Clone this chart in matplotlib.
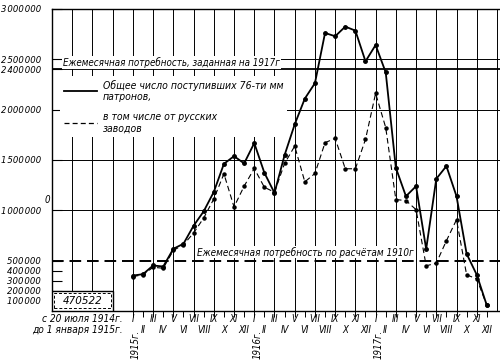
import numpy as np
import matplotlib
matplotlib.use("Agg")
import matplotlib.pyplot as plt
from matplotlib import font_manager
from matplotlib.lines import Line2D
from matplotlib.patches import Rectangle

# the drawing uses a tall narrow lettering: take a condensed DejaVu if present
cond = [f for f in font_manager.fontManager.ttflist
        if f.name == 'DejaVu Sans' and 'condensed' in str(f.stretch)]
plt.rcParams['font.family'] = ['DejaVu Sans']
plt.rcParams['font.style'] = 'italic'
k = 1.0
if cond:
    plt.rcParams['font.stretch'] = 'condensed'
    k = 1.1

# monthly deliveries of 76 mm rounds, Jan 1915 .. Dec 1917 (thousands)
months = np.arange(36)
total = [352, 366, 452, 442, 618, 668, 847, 990, 1183, 1462, 1538, 1466,
         1668, 1373, 1173, 1549, 1854, 2110, 2263, 2762, 2729, 2825, 2785, 2480,
         2642, 2370, 1423, 1140, 1240, 615, 1313, 1439, 1140, 568, 360, 55]
russian = [342, 360, 434, 425, 602, 658, 775, 924, 1113, 1363, 1034, 1240,
           1416, 1229, 1180, 1466, 1638, 1283, 1366, 1672, 1715, 1413, 1413, 1705,
           2162, 1822, 1107, 1097, 1007, 449, 475, 698, 907, 359, 320, 55]
total = np.array(total) * 1000
russian = np.array(russian) * 1000

need_1917 = 2400000
need_1910 = 500000
before_1915 = 470522

roman = ['I', 'II', 'III', 'IV', 'V', 'VI', 'VII', 'VIII', 'IX', 'X', 'XI', 'XII']
years = ['1915г.', '1916г.', '1917г.']
yticks = [100000, 200000, 300000, 400000, 500000, 1000000, 1500000,
          2000000, 2400000, 2500000, 3000000]


def fmt(v):
    return f"{v:,}".replace(",", "\u200a")


fig = plt.figure(figsize=(5, 3.64), dpi=100)
ax = fig.add_axes([0.104, 0.1456, 0.896, 0.8297])
ax.set_xlim(-8, 36.3)
ax.set_ylim(0, 3000000)

# grid
for x in range(-6, 37, 2):
    ax.axvline(x, color='black', lw=0.7, zorder=1)
for y in [1000000, 1500000, 2000000, 2500000]:
    ax.axhline(y, color='black', lw=0.7, zorder=1)

ax.axhline(need_1917, color='black', lw=1.3, zorder=2)
ax.axhline(need_1910, color='black', lw=1.4, ls=(0, (6, 3)), zorder=2)

# box with total before 1915
ax.add_patch(Rectangle((-8, 0), 6, 200000, fc='white', ec='black', lw=1.0, zorder=3))
ax.add_patch(Rectangle((-7.8, 30000), 5.6, 145000, fc='none', ec='black',
                       lw=0.7, ls=(0, (3, 2)), zorder=3))
ax.text(-5, 100000, str(before_1915), ha='center', va='center', fontsize=7.5 * k,
        zorder=4)

ax.plot(months, total, color='black', lw=1.3, marker='o', ms=2.5, zorder=5)
ax.plot(months, russian, color='black', lw=0.8, ls=(0, (5, 3)), marker='o',
        ms=2.2, zorder=5)

ax.text(-6.9, 2470000, 'Ежемесячная потребность, заданная на 1917г',
        fontsize=6.35 * k, ha='left', va='center', zorder=4,
        bbox=dict(fc='white', ec='none', pad=0.5))
ax.text(6.3, 585000, 'Ежемесячная потребность по расчётам 1910г',
        fontsize=6.5 * k, ha='left', va='center', zorder=4,
        bbox=dict(fc='white', ec='none', pad=0.5))
ax.text(-8.5, 1100000, '0', fontsize=7, ha='center', va='center')

handles = [Line2D([], [], color='black', lw=1.3),
           Line2D([], [], color='black', lw=0.9, ls=(0, (4, 2.5)))]
labels = ['Общее число поступивших 76-ти мм\nпатронов,',
          'в том числе от русских\nзаводов']
leg = ax.legend(handles, labels, loc='upper left', bbox_to_anchor=(0.006, 0.795),
                fontsize=6.8 * k, frameon=True, fancybox=False, edgecolor='none',
                facecolor='white', framealpha=1, handlelength=3.2,
                handletextpad=0.6, labelspacing=0.9, borderpad=0.35)
leg.set_zorder(4)

ax.set_yticks(yticks)
ax.set_yticklabels([fmt(v) for v in yticks], fontsize=6.2 * k)
ax.tick_params(axis='y', direction='in', length=7, width=0.8, pad=8)

ax.set_xticks(months)
ax.set_xticklabels([])
ax.tick_params(axis='x', direction='out', length=4, width=0.7)
xt = ax.get_xaxis_transform()
for m in months:
    row = -0.026 if m % 2 == 0 else -0.063
    ax.text(m, row, roman[m % 12], ha='center', va='center', fontsize=6.3 * k,
            transform=xt)

for i, yr in enumerate(years):
    ax.text(12 * i + 0.3, -0.063, yr, rotation=90, ha='center', va='top',
            fontsize=6.3 * k, transform=xt)

ax.text(-1, -0.026, 'с 20 июля 1914г.', ha='right', va='center', fontsize=6.6 * k,
        transform=xt)
ax.text(-1, -0.063, 'до 1 января 1915г.', ha='right', va='center', fontsize=6.6 * k,
        transform=xt)

ax.spines['right'].set_visible(False)
for s in ['left', 'bottom', 'top']:
    ax.spines[s].set_linewidth(1.0)

fig.savefig('out.png', dpi=100)
